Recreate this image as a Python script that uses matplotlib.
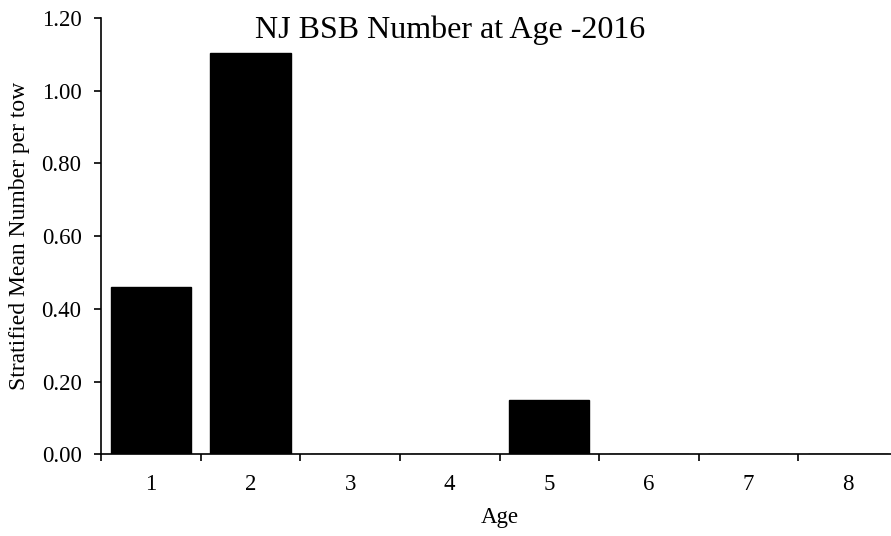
import numpy as np
import matplotlib.pyplot as plt

ages = ['1', '2', '3', '4', '5', '6', '7', '8']
number_per_tow = [0.459, 1.103, 0.0, 0.0, 0.149, 0.0, 0.0, 0.0]
yticks = [0.0, 0.2, 0.4, 0.6, 0.8, 1.0, 1.2]

plt.rcParams['font.family'] = ['Liberation Serif', 'DejaVu Serif']

fig = plt.figure(figsize=(8.91, 5.36), dpi=100)
# axis box: x 101..898 px, y 18..454 px (right edge runs past the image)
ax = fig.add_axes([101/891, 1 - 454.3/536, 797/891, (454.3 - 18)/536])

x = np.arange(len(ages))
ax.bar(x, number_per_tow, width=0.805, color='black', edgecolor='black')

ax.set_xlim(-0.5, len(ages) - 0.5)
ax.set_ylim(0, 1.2)
ax.set_yticks(yticks)
ax.set_yticklabels(['%.2f' % v for v in yticks])
ax.set_xticks(x)
ax.set_xticklabels(ages)
ax.set_xticks(np.arange(len(ages) + 1) - 0.5, minor=True)
ax.tick_params(axis='x', which='major', length=0, pad=14, labelsize=16.5)
ax.tick_params(axis='x', which='minor', length=5, width=1.2, direction='out')
ax.tick_params(axis='y', length=5, width=1.2, direction='out', labelsize=16.5, pad=9)

for s in ['top', 'right']:
    ax.spines[s].set_visible(False)
for s in ['left', 'bottom']:
    ax.spines[s].set_linewidth(1.2)

ax.set_xlabel('Age', fontsize=16.5, labelpad=9)
ax.set_ylabel('Stratified Mean Number per tow', fontsize=17, labelpad=8)
fig.text(450/891, 1 - 38/536, 'NJ BSB Number at Age -2016', fontsize=23,
         ha='center', va='baseline')

fig.savefig('out.png', dpi=100)
